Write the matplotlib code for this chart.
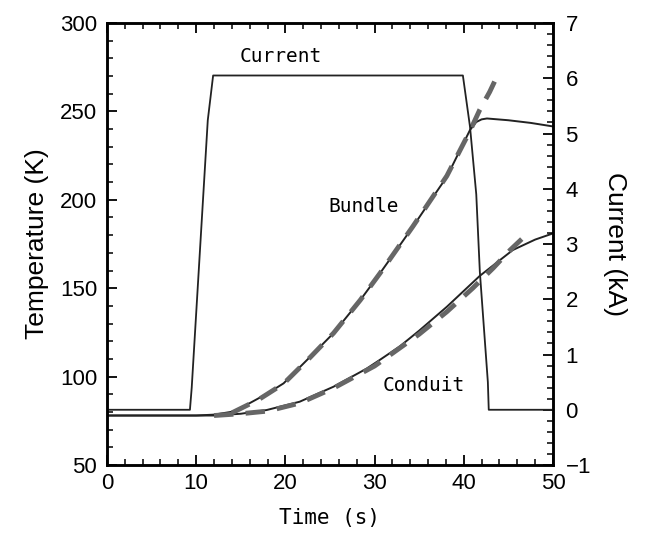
import matplotlib
matplotlib.use("Agg")
import matplotlib.pyplot as plt
from matplotlib.ticker import MultipleLocator

# --- datos ---
t_cur = [0, 9.3, 9.5, 11.3, 11.9, 39.9, 40.7, 41.4, 41.8, 42.7, 42.8, 50]
i_cur = [0, 0, 0.4, 5.24, 6.05, 6.05, 5.12, 3.9, 2.5, 0.5, 0, 0]

t_bun = [0, 10, 12, 14.1, 16, 18, 19.8, 22.8, 25.4, 28.4, 30.6, 32.3, 34.3,
         36.2, 38.1, 40.7, 41.4, 42.0, 42.6, 45, 47.5, 50]
T_bun = [78, 78, 78.5, 80.2, 85, 90.5, 96.2, 111.3, 124.6, 143.3, 158.4,
         170.5, 184.8, 199, 213, 239.5, 244, 245.5, 246, 245, 243.5, 241.5]

t_bun_sim = [14, 17, 19.8, 22.8, 25.4, 28.4, 30.6, 34.3, 38.1, 40.7, 41.8,
             42.9, 43.8]
T_bun_sim = [79.5, 87, 96, 111, 124.6, 143.3, 158.4, 185, 213.5, 239, 251,
             261, 270.6]

t_con = [0, 12, 15, 17.9, 21.6, 25.4, 29.1, 30.6, 32.8, 35, 38.1, 41.8,
         45.5, 48, 50]
T_con = [78, 78, 79, 81.1, 85.8, 94.3, 104.5, 109.5, 117, 126, 139.5, 157,
         171.6, 177.5, 181]

t_con_sim = [12, 15, 18, 21.6, 25.4, 30, 35, 38.1, 41, 43.3, 45.2, 46.5]
T_con_sim = [78, 79, 80.5, 85, 93.5, 106, 124, 136.7, 150, 161.4, 171.6, 177.8]

FUENTE = ["Liberation Sans", "DejaVu Sans"]
MONO = ["DejaVu Sans Mono"]

fig = plt.figure(figsize=(6.46, 5.35), dpi=100)
ax = fig.add_axes([0.1656, 0.1308, 0.6904, 0.8262])
ax2 = ax.twinx()

ax.plot(t_bun, T_bun, "-", color="#222222", lw=1.4)
ax.plot(t_con, T_con, "-", color="#222222", lw=1.4)
ax.plot(t_bun_sim, T_bun_sim, "--", color="#666666", lw=3.5, dashes=(4, 2.5))
ax.plot(t_con_sim, T_con_sim, "--", color="#666666", lw=3.5, dashes=(4, 2.5))
ax2.plot(t_cur, i_cur, "-", color="#222222", lw=1.3)

ax.set_xlim(0, 50)
ax.set_ylim(50, 300)
ax2.set_ylim(-1, 7)

ax.xaxis.set_major_locator(MultipleLocator(10))
ax.xaxis.set_minor_locator(MultipleLocator(2))
ax.yaxis.set_major_locator(MultipleLocator(50))
ax.yaxis.set_minor_locator(MultipleLocator(10))
ax2.yaxis.set_major_locator(MultipleLocator(1))
ax2.yaxis.set_minor_locator(MultipleLocator(0.2))

ax.tick_params(axis="x", which="both", direction="in", top=True, bottom=True)
ax.tick_params(axis="y", which="both", direction="in", left=True, right=False)
ax2.tick_params(axis="y", which="both", direction="in", right=True)
for a in (ax, ax2):
    a.tick_params(which="major", length=7, width=1.3, labelsize=16)
    a.tick_params(which="minor", length=4, width=1.1)
    for lab in a.get_xticklabels() + a.get_yticklabels():
        lab.set_family(FUENTE)
ax.tick_params(axis="x", pad=6)
ax.tick_params(axis="y", pad=7)
ax2.tick_params(axis="y", pad=9)
for s in ax.spines.values():
    s.set_linewidth(1.8)
for s in ax2.spines.values():
    s.set_linewidth(1.8)

ax.set_ylabel("Temperature (K)", fontsize=19, family=FUENTE, labelpad=8)
ax2.set_ylabel("Current (kA)", fontsize=19, family=FUENTE, rotation=270,
               labelpad=26)
ax.set_xlabel("Time (s)", fontsize=15, family=MONO, labelpad=10)

ax.text(19.5, 281, "Current", fontsize=14, family=MONO, ha="center", va="center")
ax.text(28.8, 196, "Bundle", fontsize=14, family=MONO, ha="center", va="center")
ax.text(35.5, 95, "Conduit", fontsize=14, family=MONO, ha="center", va="center")

fig.savefig("out.png", dpi=100)
